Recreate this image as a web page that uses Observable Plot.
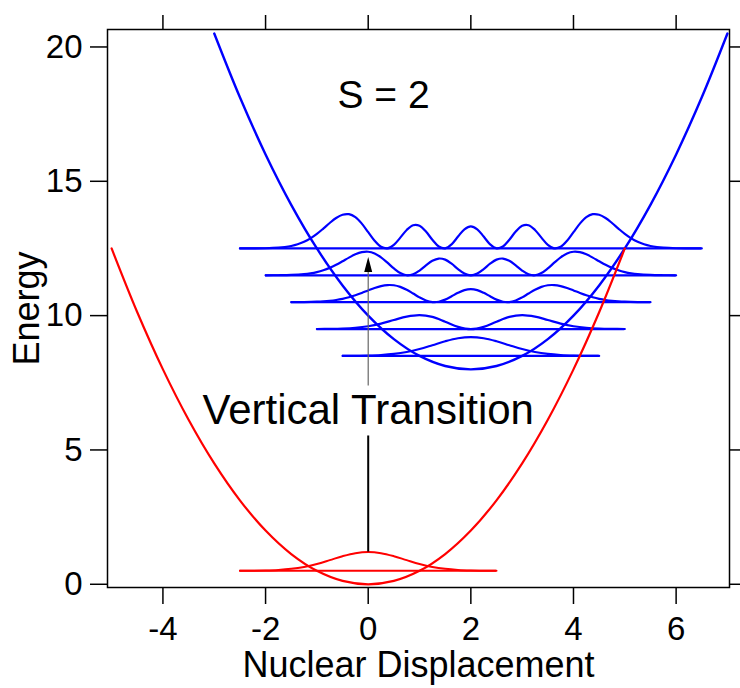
<!DOCTYPE html>
<html><head><meta charset="utf-8">
<script src="https://cdn.jsdelivr.net/npm/d3@7"></script>
<script src="https://cdn.jsdelivr.net/npm/@observablehq/plot@0.6"></script>
<style>html,body{margin:0;padding:0;background:#fff}#chart svg{display:block}</style>
</head><body><div id="chart"></div>
<script>
// ---- data ----
const xTicks = [-4, -2, 0, 2, 4, 6];
const yTicks = [0, 5, 10, 15, 20];

// ground-state potential (red)
const groundX = [-5,-4.5,-4,-3.5,-3,-2.5,-2,-1.5,-1,-0.5,0,0.5,1,1.5,2,2.5,3,3.5,4,4.5,5];
const groundE = [12.5,10.125,8,6.125,4.5,3.125,2,1.125,0.5,0.125,0,0.125,0.5,1.125,2,3.125,4.5,6.125,8,10.125,12.5];
// excited-state potential (blue)
const excitedX = [-3,-2.5,-2,-1.5,-1,-0.5,0,0.5,1,1.5,2,2.5,3,3.5,4,4.5,5,5.5,6,6.5,7];
const excitedE = [20.5,18.125,16,14.125,12.5,11.125,10,9.125,8.5,8.125,8,8.125,8.5,9.125,10,11.125,12.5,14.125,16,18.125,20.5];

const groundCenter = 0;
const groundLevel = 0.5;
const excitedCenter = 2;
const excitedLevels = [8.5, 9.5, 10.5, 11.5, 12.5];

// vibrational probability densities: offsets from the well centre and heights above the level
const dx0 = [-2.5,-2.25,-2,-1.75,-1.5,-1.25,-1,-0.75,-0.5,-0.25,0,0.25,0.5,0.75,1,1.25,1.5,1.75,2,2.25,2.5];
const h0 = [0.0014,0.0044,0.0128,0.0327,0.0738,0.1467,0.2575,0.3988,0.5452,0.6576,0.7,0.6576,0.5452,0.3988,0.2575,0.1467,0.0738,0.0327,0.0128,0.0044,0.0014];

const dx1 = [-3,-2.75,-2.5,-2.25,-2,-1.75,-1.5,-1.25,-1,-0.75,-0.5,-0.25,0,0.25,0.5,0.75,1,1.25,1.5,1.75,2,2.25,2.5,2.75,3];
const h1 = [0.0016,0.0056,0.0171,0.0453,0.1036,0.2025,0.3352,0.4630,0.5200,0.4530,0.2752,0.0830,0,0.0830,0.2752,0.4530,0.5200,0.4630,0.3352,0.2025,0.1036,0.0453,0.0171,0.0056,0.0016];

const dx2 = [-3.5,-3.25,-3,-2.875,-2.75,-2.625,-2.5,-2.375,-2.25,-2.125,-2,-1.875,-1.75,-1.625,-1.5,-1.375,-1.25,-1.125,-1,-0.875,-0.75,-0.625,-0.5,-0.375,-0.25,-0.125,0,0.125,0.25,0.375,0.5,0.625,0.75,0.875,1,1.125,1.25,1.375,1.5,1.625,1.75,1.875,2,2.125,2.25,2.375,2.5,2.625,2.75,2.875,3,3.25,3.5];
const h2 = [0.0013,0.0051,0.0174,0.0303,0.0506,0.0811,0.1246,0.1832,0.2572,0.3443,0.4380,0.5276,0.5995,0.6379,0.6301,0.5698,0.4619,0.3227,0.1795,0.0641,0.0043,0.0158,0.0950,0.2190,0.3510,0.4509,0.4880,0.4509,0.3510,0.2190,0.0950,0.0158,0.0043,0.0641,0.1795,0.3227,0.4619,0.5698,0.6301,0.6379,0.5995,0.5276,0.4380,0.3443,0.2572,0.1832,0.1246,0.0811,0.0506,0.0303,0.0174,0.0051,0.0013];

const dx3 = [-4,-3.75,-3.5,-3.25,-3.125,-3,-2.875,-2.75,-2.625,-2.5,-2.375,-2.25,-2.125,-2,-1.875,-1.75,-1.625,-1.5,-1.375,-1.25,-1.125,-1,-0.875,-0.75,-0.625,-0.5,-0.375,-0.25,-0.125,0,0.125,0.25,0.375,0.5,0.625,0.75,0.875,1,1.125,1.25,1.375,1.5,1.625,1.75,1.875,2,2.125,2.25,2.375,2.5,2.625,2.75,2.875,3,3.125,3.25,3.5,3.75,4];
const h3 = [0.0007,0.0033,0.0130,0.0431,0.0735,0.1199,0.1867,0.2770,0.3907,0.5222,0.6589,0.7802,0.8616,0.8784,0.8144,0.6708,0.4700,0.2559,0.0835,0.0025,0.0376,0.1764,0.3684,0.5404,0.6240,0.5836,0.4331,0.2328,0.0650,0,0.0650,0.2328,0.4331,0.5836,0.6240,0.5404,0.3684,0.1764,0.0376,0.0025,0.0835,0.2559,0.4700,0.6708,0.8144,0.8784,0.8616,0.7802,0.6589,0.5222,0.3907,0.2770,0.1867,0.1199,0.0735,0.0431,0.0130,0.0033,0.0007];

const dx4 = [-4.5,-4.25,-4,-3.75,-3.625,-3.5,-3.375,-3.25,-3.125,-3,-2.875,-2.75,-2.625,-2.5,-2.375,-2.25,-2.125,-2,-1.875,-1.75,-1.625,-1.5,-1.375,-1.25,-1.125,-1,-0.875,-0.75,-0.625,-0.5,-0.375,-0.25,-0.125,0,0.125,0.25,0.375,0.5,0.625,0.75,0.875,1,1.125,1.25,1.375,1.5,1.625,1.75,1.875,2,2.125,2.25,2.375,2.5,2.625,2.75,2.875,3,3.125,3.25,3.375,3.5,3.625,3.75,4,4.25,4.5];
const h4 = [0.0003,0.0016,0.0072,0.0280,0.0517,0.0913,0.1538,0.2467,0.3759,0.5426,0.7396,0.9472,1.1333,1.2563,1.2751,1.1629,0.9252,0.6062,0.2863,0.0608,0.0041,0.1359,0.4020,0.6882,0.8640,0.8432,0.6296,0.3224,0.0720,0.0045,0.1543,0.4421,0.7145,0.8251,0.7145,0.4421,0.1543,0.0045,0.0720,0.3224,0.6296,0.8432,0.8640,0.6882,0.4020,0.1359,0.0041,0.0608,0.2863,0.6062,0.9252,1.1629,1.2751,1.2563,1.1333,0.9472,0.7396,0.5426,0.3759,0.2467,0.1538,0.0913,0.0517,0.0280,0.0072,0.0016,0.0003];

// annotations (data coordinates)
const sLabel = {text: "S = 2", x: 0.3, y: 17.72};
const transitionLabel = {text: "Vertical Transition", x: 0, y: 5.98};
const transitionLower = {x: 0, from: groundLevel + d3.max(h0), to: 5.52};
const transitionUpper = {x: 0, from: 7.38, to: 12.18};

// ---- tables built from the arrays ----
const groundCurve = groundX.map((x, i) => ({x, y: groundE[i]}));
const excitedCurve = excitedX.map((x, i) => ({x, y: excitedE[i]}));
const excitedProfiles = [[dx0, h0], [dx1, h1], [dx2, h2], [dx3, h3], [dx4, h4]];
const excitedWaves = excitedProfiles.flatMap(([dx, h], v) =>
  dx.map((d, i) => ({v, x: excitedCenter + d, y: excitedLevels[v] + h[i]})));
const excitedLines = excitedProfiles.map(([dx], v) =>
  ({x1: excitedCenter + dx[0], x2: excitedCenter + dx[dx.length - 1], y: excitedLevels[v]}));
const groundWave = dx0.map((d, i) => ({x: groundCenter + d, y: groundLevel + h0[i]}));
const groundLine = [{x1: groundCenter + dx0[0], x2: groundCenter + dx0[dx0.length - 1], y: groundLevel}];

const BLUE = "#0000ff", RED = "#ff0000";
const headShape = {draw(ctx, l) { ctx.moveTo(0, -l); ctx.lineTo(-4, 0); ctx.lineTo(4, 0); ctx.closePath(); }};
const fmt = d => String(d);

const chart = Plot.plot({
  width: 740,
  height: 688,
  marginLeft: 107,
  marginRight: 11,
  marginTop: 29,
  marginBottom: 101,
  style: {fontFamily: "'Liberation Sans', Arial, Helvetica, sans-serif", background: "#fff", color: "#000"},
  x: {domain: [-5.08, 7.04]},
  y: {domain: [-0.12, 20.65]},
  marks: [
    Plot.axisX({anchor: "bottom", ticks: xTicks, tickSize: 17, tickPadding: 12, fontSize: 33, tickFormat: fmt, label: null, strokeWidth: 1.5}),
    Plot.axisX({anchor: "top", ticks: xTicks, tickSize: 15, tickFormat: () => "", label: null, strokeWidth: 1.5}),
    Plot.axisY({anchor: "left", ticks: yTicks, tickSize: 17, tickPadding: 8, fontSize: 33, tickFormat: fmt, label: null, strokeWidth: 1.5}),
    Plot.axisY({anchor: "right", ticks: yTicks, tickSize: 17, tickFormat: () => "", label: null, strokeWidth: 1.5}),
    Plot.frame({stroke: "#000", strokeWidth: 1.5}),
    Plot.text(["Nuclear Displacement"], {frameAnchor: "bottom", dy: 89, lineAnchor: "bottom", textAnchor: "middle", fontSize: 36}),
    Plot.text(["Energy"], {frameAnchor: "left", dx: -69, rotate: -90, lineAnchor: "bottom", textAnchor: "middle", fontSize: 36}),
    // excited state
    Plot.line(excitedCurve, {x: "x", y: "y", stroke: BLUE, strokeWidth: 2.4, curve: "catmull-rom"}),
    Plot.ruleY(excitedLines, {x1: "x1", x2: "x2", y: "y", stroke: BLUE, strokeWidth: 2.2}),
    Plot.line(excitedWaves, {x: "x", y: "y", z: "v", stroke: BLUE, strokeWidth: 2.2, curve: "catmull-rom"}),
    // ground state
    Plot.line(groundCurve, {x: "x", y: "y", stroke: RED, strokeWidth: 2.2, curve: "catmull-rom"}),
    Plot.ruleY(groundLine, {x1: "x1", x2: "x2", y: "y", stroke: RED, strokeWidth: 2}),
    Plot.line(groundWave, {x: "x", y: "y", stroke: RED, strokeWidth: 2, curve: "catmull-rom"}),
    // transition arrow
    Plot.ruleX([transitionLower], {x: "x", y1: "from", y2: "to", stroke: "#000", strokeWidth: 2}),
    Plot.ruleX([transitionUpper], {x: "x", y1: "from", y2: d => d.to - 0.3, stroke: "#666", strokeWidth: 1.2}),
    Plot.vector([transitionUpper], {x: "x", y: "to", length: 15, anchor: "end", shape: headShape, fill: "#000", stroke: "none"}),
    // labels
    Plot.text([transitionLabel], {x: "x", y: "y", text: "text", fontSize: 42, lineAnchor: "bottom", textAnchor: "middle"}),
    Plot.text([sLabel], {x: "x", y: "y", text: "text", fontSize: 39, lineAnchor: "bottom", textAnchor: "middle"})
  ]
});
document.getElementById("chart").appendChild(chart);
</script>
</body></html>
